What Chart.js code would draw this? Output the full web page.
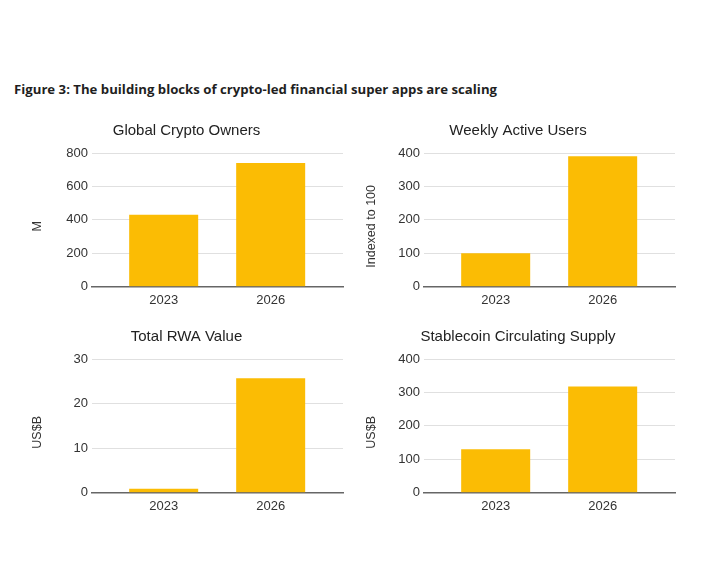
<!DOCTYPE html>
<html>
<head>
<meta charset="utf-8">
<script src="https://cdn.jsdelivr.net/npm/chart.js@4.4.1/dist/chart.umd.min.js"></script>
<style>
  html, body { margin: 0; padding: 0; background: #fff; }
  #page { position: relative; width: 722px; height: 570px; overflow: hidden; }
  #fig-title {
    position: absolute; left: 14px; top: 80px; white-space: nowrap;
    font-family: "Open Sans", sans-serif; font-weight: 700; font-size: 13.2px;
    line-height: 18px; color: #1f1f1f;
  }
  .box { position: absolute; }
</style>
</head>
<body>
<div id="page">
  <div id="fig-title">Figure 3: The building blocks of crypto-led financial super apps are scaling</div>
  <div class="box" style="left:20px;top:110px;width:333px;height:206px"><canvas id="c-owners"></canvas></div>
  <div class="box" style="left:350px;top:110px;width:336px;height:206px"><canvas id="c-wau"></canvas></div>
  <div class="box" style="left:20px;top:316px;width:333px;height:210px"><canvas id="c-rwa"></canvas></div>
  <div class="box" style="left:350px;top:316px;width:336px;height:210px"><canvas id="c-stable"></canvas></div>
</div>
<script>
// data
const years = ['2023', '2026'];
const ownersM = [430, 740];
const weeklyUsersIdx = [100, 390];
const rwaValueB = [0.9, 25.7];
const stablecoinB = [130, 318];

const ownersTicks = [0, 200, 400, 600, 800];
const wauTicks = [0, 100, 200, 300, 400];
const rwaTicks = [0, 10, 20, 30];
const stableTicks = [0, 100, 200, 300, 400];

const BAR = '#FBBC04';
const FONT = '"Liberation Sans", Arial, sans-serif';

// rotated y-axis caption, Sheets puts it a little below the plot middle
const yCaption = {
  id: 'yCaption',
  afterDraw(chart, args, opts) {
    const { ctx, chartArea } = chart;
    ctx.save();
    ctx.translate(opts.x, (chartArea.top + chartArea.bottom) / 2 + 6.5);
    ctx.rotate(-Math.PI / 2);
    ctx.font = '12.5px ' + FONT;
    ctx.fillStyle = '#333';
    ctx.textAlign = 'center';
    ctx.textBaseline = 'middle';
    ctx.fillText(opts.text, 0, 0);
    ctx.restore();
  }
};

// x is a linear index axis so the two bars sit closer than a plain category split
function barChart(id, title, values, ticks, yLabel, labelX, axisW, sidePad, xAxisH) {
  new Chart(document.getElementById(id), {
    type: 'bar',
    data: {
      datasets: [{
        data: values.map((v, i) => ({ x: i, y: v })),
        backgroundColor: BAR,
        barPercentage: 0.645,
        categoryPercentage: 1,
      }],
    },
    plugins: [yCaption],
    options: {
      responsive: true,
      maintainAspectRatio: false,
      animation: false,
      layout: { padding: { left: sidePad, right: sidePad, top: 0, bottom: 0 } },
      plugins: {
        legend: { display: false },
        tooltip: { enabled: false },
        title: {
          display: true,
          text: title,
          color: '#222',
          font: { family: FONT, size: 15, weight: 'normal' },
          padding: { top: 12, bottom: 13 },
        },
        yCaption: { text: yLabel, x: labelX },
      },
      scales: {
        x: {
          type: 'linear',
          offset: false,
          min: -0.67,
          max: 1.676,
          grid: { display: false, drawTicks: false, offset: false },
          border: { color: '#666', width: 1.5 },
          ticks: {
            color: '#333', font: { family: FONT, size: 13 }, padding: 6,
            callback: v => years[v],
          },
          afterBuildTicks: s => { s.ticks = years.map((y, i) => ({ value: i })); },
          afterFit: s => { s.height = xAxisH; },
        },
        y: {
          min: ticks[0],
          max: ticks[ticks.length - 1],
          grid: { color: '#e0e0e0', drawTicks: false },
          border: { display: false },
          ticks: { color: '#333', font: { family: FONT, size: 13 }, padding: 4 },
          afterBuildTicks: s => { s.ticks = ticks.map(v => ({ value: v })); },
          afterFit: s => { s.width = axisW; },
        },
      },
    },
  });
}

barChart('c-owners', 'Global Crypto Owners', ownersM, ownersTicks, 'M', 18, 62, 10, 29.3);
barChart('c-wau', 'Weekly Active Users', weeklyUsersIdx, wauTicks, 'Indexed to 100', 22, 63, 11, 29.3);
barChart('c-rwa', 'Total RWA Value', rwaValueB, rwaTicks, 'US$B', 18, 62, 10, 33.3);
barChart('c-stable', 'Stablecoin Circulating Supply', stablecoinB, stableTicks, 'US$B', 22, 63, 11, 33.3);
</script>
</body>
</html>
